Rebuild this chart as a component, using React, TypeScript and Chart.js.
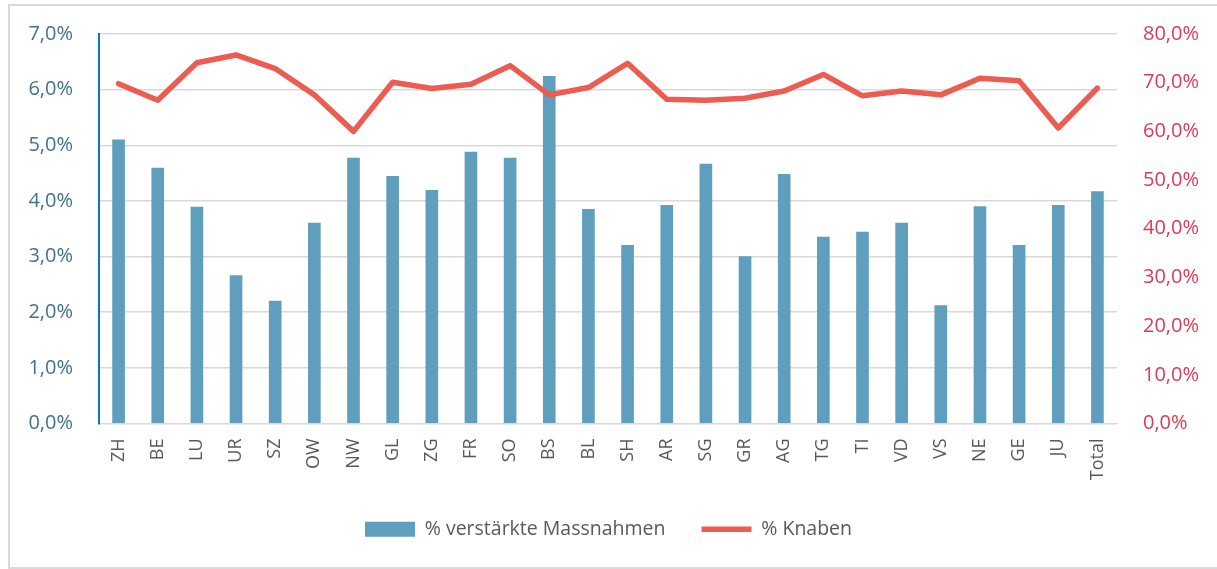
import React, { useEffect, useRef } from "react";
import { Chart, registerables } from "chart.js";

Chart.register(...registerables);

const categories = ["ZH", "BE", "LU", "UR", "SZ", "OW", "NW", "GL", "ZG", "FR", "SO", "BS", "BL", "SH", "AR", "SG", "GR", "AG", "TG", "TI", "VD", "VS", "NE", "GE", "JU", "Total"];
const massnahmen = [5.1, 4.59, 3.89, 2.66, 2.2, 3.6, 4.77, 4.44, 4.19, 4.88, 4.77, 6.24, 3.85, 3.2, 3.92, 4.66, 3.0, 4.48, 3.35, 3.44, 3.6, 2.12, 3.9, 3.2, 3.92, 4.17];
const knaben = [69.8, 66.4, 74.1, 75.7, 72.9, 67.5, 60.0, 70.1, 68.8, 69.7, 73.5, 67.5, 69.0, 74.0, 66.6, 66.4, 66.8, 68.3, 71.7, 67.3, 68.3, 67.5, 70.9, 70.4, 60.7, 68.9];
const seriesNames = ["% verstärkte Massnahmen", "% Knaben"];

const fmt = (v: number) => `${Number(v).toFixed(1).replace(".", ",")}%`;

export default function App() {
  const ref = useRef<HTMLCanvasElement | null>(null);
  useEffect(() => {
    if (!ref.current) return;
    const font = "'Open Sans', sans-serif";
    const chart = new Chart(ref.current, {
      type: "bar",
      data: {
        labels: categories,
        datasets: [
          {
            type: "bar",
            label: seriesNames[0],
            data: massnahmen,
            backgroundColor: "#5f9fbd",
            borderWidth: 0,
            barThickness: 12,
            yAxisID: "y",
            order: 2,
            pointStyle: "rect",
          } as any,
          {
            type: "line",
            label: seriesNames[1],
            data: knaben,
            borderColor: "#ec5c50",
            backgroundColor: "#ec5c50",
            borderWidth: 5.5,
            borderCapStyle: "round",
            borderJoinStyle: "round",
            tension: 0,
            pointRadius: 0,
            yAxisID: "y1",
            order: 1,
            pointStyle: "line",
          } as any,
        ],
      },
      options: {
        responsive: false,
        animation: false,
        layout: { padding: { top: 34, bottom: 20, left: 0, right: 0 } },
        plugins: {
          tooltip: { enabled: false },
          legend: {
            position: "bottom",
            labels: {
              usePointStyle: true,
              pointStyleWidth: 50,
              boxHeight: 15,
              padding: 36,
              color: "#595959",
              font: { family: font, size: 19.5 },
              sort: (a: any, b: any) => a.datasetIndex - b.datasetIndex,
            },
          },
        },
        scales: {
          x: {
            grid: { display: false, drawTicks: false },
            border: { color: "#d9d9d9", width: 1 },
            ticks: {
              autoSkip: false,
              minRotation: 90,
              maxRotation: 90,
              padding: 15,
              color: "#595959",
              font: { family: font, size: 18 },
            },
            afterFit: (s: any) => { s.height = 60; },
          },
          y: {
            position: "left",
            min: 0,
            max: 7,
            grid: { color: "#d9d9d9", lineWidth: 1.5, drawTicks: false },
            border: { color: "#0a74c9", width: 2 },
            ticks: {
              stepSize: 1,
              padding: 26,
              color: "#41728c",
              font: { family: font, size: 20 },
              callback: (v: any) => fmt(v),
            },
            afterFit: (s: any) => { s.width = 99; s.paddingTop = 12; s.paddingBottom = 12; },
          },
          y1: {
            position: "right",
            min: 0,
            max: 80,
            grid: { display: false, drawTicks: false },
            border: { display: false },
            ticks: {
              stepSize: 10,
              padding: 26,
              color: "#dc3b54",
              font: { family: font, size: 20 },
              callback: (v: any) => fmt(v),
            },
            afterFit: (s: any) => { s.width = 100; s.paddingTop = 12; s.paddingBottom = 12; },
          },
        },
      } as any,
    });
    return () => chart.destroy();
  }, []);
  return (
    <div style={{ position: "fixed", left: 0, top: 0, width: 1217, height: 569, background: "#fff", overflow: "hidden" }}>
      <div style={{ position: "absolute", left: 8, top: 4, width: 1215, height: 565, border: "2px solid #d9d9d9", boxSizing: "border-box" }} />
      <canvas ref={ref} width={1217} height={569} style={{ position: "absolute", left: 0, top: 0 }} />
    </div>
  );
}
